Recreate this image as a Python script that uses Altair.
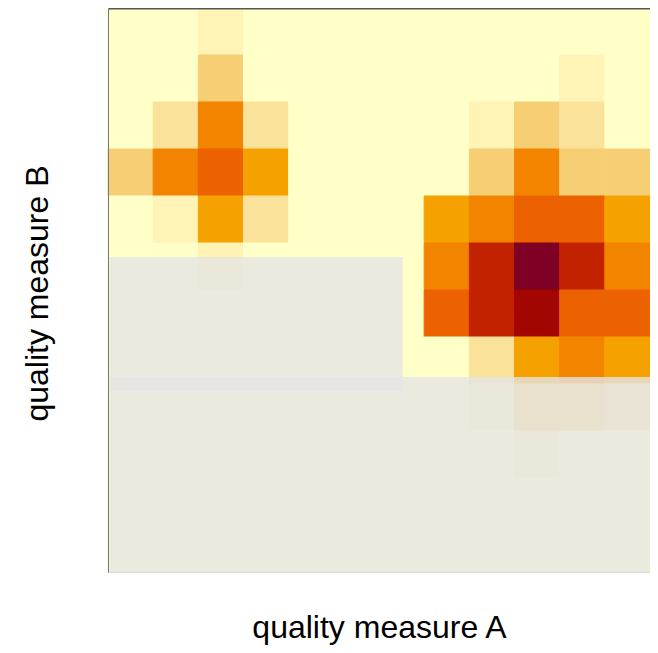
import altair as alt
import pandas as pd

# colour levels (R image default: hcl.colors(12, "YlOrRd", rev = TRUE))
level_colors = ["#FFFFC8", "#FFF3B5", "#FBE29A", "#F6CF75", "#F5BA45", "#F5A200",
                "#F38400", "#EC6200", "#DA4100", "#C32200", "#A30500", "#7E0025"]

# 12 x 12 density levels, top row first, left column first
row_00 = [0, 0, 1, 0, 0, 0, 0, 0, 0, 0, 0, 0]
row_01 = [0, 0, 3, 0, 0, 0, 0, 0, 0, 0, 1, 0]
row_02 = [0, 2, 6, 2, 0, 0, 0, 0, 1, 3, 2, 0]
row_03 = [3, 6, 7, 5, 0, 0, 0, 0, 3, 6, 3, 3]
row_04 = [0, 1, 5, 2, 0, 0, 0, 5, 6, 7, 7, 5]
row_05 = [0, 0, 1, 0, 0, 0, 0, 6, 9, 11, 9, 6]
row_06 = [0, 0, 0, 0, 0, 0, 0, 7, 9, 10, 7, 7]
row_07 = [0, 0, 0, 0, 0, 0, 0, 0, 2, 5, 6, 5]
row_08 = [0, 0, 0, 0, 0, 0, 0, 0, 1, 3, 3, 2]
row_09 = [0, 0, 0, 0, 0, 0, 0, 0, 0, 1, 0, 0]
row_10 = [0, 0, 0, 0, 0, 0, 0, 0, 0, 0, 0, 0]
row_11 = [0, 0, 0, 0, 0, 0, 0, 0, 0, 0, 0, 0]
grid_rows = [row_00, row_01, row_02, row_03, row_04, row_05,
             row_06, row_07, row_08, row_09, row_10, row_11]

# shaded regions (quality measure A / B, 0..1)
region_x1 = [0.003, 0.003]
region_x2 = [0.544, 1.0]
region_y1 = [0.321, 0.0]
region_y2 = [0.5585, 0.3457]

n = len(grid_rows)
cells = []
for r, row in enumerate(grid_rows):
    for c, lev in enumerate(row):
        cells.append({
            "x": c / n, "x2": (c + 1) / n,
            "y": (n - 1 - r) / n, "y2": (n - r) / n,
            "level": lev,
        })
cells_df = pd.DataFrame(cells)
regions_df = pd.DataFrame({"x": region_x1, "x2": region_x2, "y": region_y1, "y2": region_y2})

xscale = alt.Scale(domain=[0, 1], nice=False, zero=False)
yscale = alt.Scale(domain=[0, 1], nice=False, zero=False)
cscale = alt.Scale(domain=list(range(12)), range=level_colors)

FONT = "Liberation Sans"

heat = alt.Chart(cells_df).mark_rect(strokeWidth=1).encode(
    x=alt.X("x:Q", scale=xscale, axis=alt.Axis(
        orient="bottom", ticks=False, labels=False, grid=False,
        domain=True, domainColor="#d8d8d8", domainWidth=1, zindex=1,
        title="quality measure A", titleFont=FONT, titleFontSize=32,
        titleFontWeight="normal", titleColor="#000000",
        titleBaseline="alphabetic", titleY=65)),
    x2="x2:Q",
    y=alt.Y("y:Q", scale=yscale, axis=alt.Axis(
        orient="left", ticks=False, labels=False, grid=False,
        domain=True, domainColor="#777777", domainWidth=1, zindex=1,
        title="quality measure B", titleFont=FONT, titleFontSize=32,
        titleFontWeight="normal", titleColor="#000000",
        titleBaseline="alphabetic", titleAngle=270, titleX=-61, titleY=285)),
    y2="y2:Q",
    color=alt.Color("level:O", scale=cscale, legend=None),
    stroke=alt.Color("level:O", scale=cscale, legend=None),
)

shade = alt.Chart(regions_df).mark_rect(color="#E5E5E5", opacity=0.8).encode(
    x=alt.X("x:Q", scale=xscale, axis=alt.Axis(
        orient="top", ticks=False, labels=False, grid=False, title=None,
        domain=True, domainColor="#555555", domainWidth=2, zindex=1)),
    x2="x2:Q",
    y=alt.Y("y:Q", scale=yscale, axis=None),
    y2="y2:Q",
)

chart = alt.layer(heat, shade).resolve_axis(x="independent", y="independent").properties(
    width=542, height=564,
    autosize=alt.AutoSizeParams(type="none"),
    padding={"left": 100, "top": 0, "right": 0, "bottom": 73},
).configure_view(stroke=None)

chart.save("out.html", embed_options={"renderer": "svg", "actions": False})
